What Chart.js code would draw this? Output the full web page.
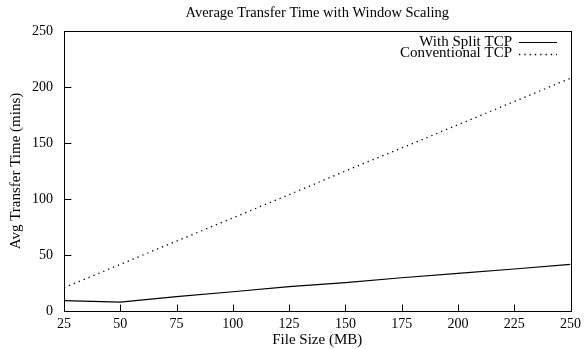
<!DOCTYPE html>
<html>
<head>
<meta charset="utf-8">
<script src="https://cdn.jsdelivr.net/npm/chart.js@4/dist/chart.umd.min.js"></script>
<style>
  html, body { margin: 0; padding: 0; background: #fff; }
  #c { display: block; }
</style>
</head>
<body>
<canvas id="c" width="586" height="349"></canvas>
<script>
// File sizes in MB and average transfer times in minutes
const fileSizes = [25, 50, 75, 100, 125, 150, 175, 200, 225, 250];
const splitTcp = [9.2, 8.0, 12.8, 17.2, 21.7, 25.3, 29.7, 33.6, 37.5, 41.7];
const conventionalTcp = [20.8, 41.6, 62.4, 83.1, 103.9, 125.0, 145.5, 166.3, 187.0, 207.8];
const xTicks = [25, 50, 75, 100, 125, 150, 175, 200, 225, 250];
const yTicks = [0, 50, 100, 150, 200, 250];
const chartTitle = 'Average Transfer Time with Window Scaling';

const FONT = '"Liberation Serif", "Times New Roman", serif';
const TICK_FS = 14;
const LABEL_FS = 15;
const TITLE_FS = 14.5;
const KEY_FS = 15;

// Box frame, inward ticks, centred title and a gnuplot-style key
const framePlugin = {
  id: 'frame',
  afterDraw(chart) {
    const { ctx, chartArea: a, scales: { x, y } } = chart;
    ctx.save();
    ctx.strokeStyle = '#000';
    ctx.lineWidth = 1;
    const L = Math.round(a.left) + 0.5, R = Math.round(a.right) + 0.5;
    const T = Math.round(a.top) + 0.5, B = Math.round(a.bottom) + 0.5;
    ctx.strokeRect(L, T, R - L, B - T);
    ctx.beginPath();
    xTicks.forEach(v => {
      const px = Math.round(x.getPixelForValue(v)) + 0.5;
      ctx.moveTo(px, B); ctx.lineTo(px, B - 7);
    });
    yTicks.forEach(v => {
      const py = Math.round(y.getPixelForValue(v)) + 0.5;
      ctx.moveTo(L, py); ctx.lineTo(L + 7, py);
    });
    ctx.stroke();

    // title, centred over the plot box
    ctx.fillStyle = '#000';
    ctx.textAlign = 'center';
    ctx.textBaseline = 'middle';
    ctx.font = TITLE_FS + 'px ' + FONT;
    ctx.fillText(chartTitle, (a.left + a.right) / 2, 13);

    // key
    ctx.font = KEY_FS + 'px ' + FONT;
    ctx.textAlign = 'right';
    chart.data.datasets.forEach((ds, i) => {
      const ty = 42 + i * 11.5;
      ctx.fillText(ds.label, 512, ty);
      ctx.beginPath();
      ctx.setLineDash(ds.borderDash || []);
      ctx.lineWidth = ds.borderWidth;
      ctx.strokeStyle = ds.borderColor;
      ctx.moveTo(519, Math.round(ty) + 0.5);
      ctx.lineTo(557, Math.round(ty) + 0.5);
      ctx.stroke();
    });
    ctx.restore();
  }
};

new Chart(document.getElementById('c'), {
  type: 'line',
  data: {
    labels: fileSizes,
    datasets: [
      {
        label: 'With Split TCP',
        data: fileSizes.map((f, i) => ({ x: f, y: splitTcp[i] })),
        borderColor: '#000',
        borderWidth: 1.2,
        pointRadius: 0,
        tension: 0,
        fill: false
      },
      {
        label: 'Conventional TCP',
        data: fileSizes.map((f, i) => ({ x: f, y: conventionalTcp[i] })),
        borderColor: '#000',
        borderWidth: 1.3,
        borderDash: [1.3, 4],
        pointRadius: 0,
        tension: 0,
        fill: false
      }
    ]
  },
  options: {
    responsive: false,
    animation: false,
    layout: { padding: { left: 0, right: 14, top: 31, bottom: 0 } },
    plugins: {
      legend: { display: false },
      tooltip: { enabled: false },
      title: { display: false }
    },
    scales: {
      x: {
        type: 'linear',
        min: 25,
        max: 250,
        afterBuildTicks(scale) { scale.ticks = xTicks.map(v => ({ value: v })); },
        afterFit(scale) { scale.height = 38; },
        grid: { display: false, drawTicks: false },
        border: { display: false },
        ticks: {
          color: '#000',
          padding: 5,
          maxRotation: 0,
          autoSkip: false,
          font: { family: FONT, size: TICK_FS }
        },
        title: {
          display: true,
          text: 'File Size (MB)',
          color: '#000',
          padding: { top: 0, bottom: 0 },
          font: { family: FONT, size: LABEL_FS }
        }
      },
      y: {
        type: 'linear',
        min: 0,
        max: 250,
        afterBuildTicks(scale) { scale.ticks = yTicks.map(v => ({ value: v })); },
        afterFit(scale) { scale.width = 64; },
        grid: { display: false, drawTicks: false },
        border: { display: false },
        ticks: {
          color: '#000',
          padding: 11,
          autoSkip: false,
          font: { family: FONT, size: TICK_FS }
        },
        title: {
          display: true,
          text: 'Avg Transfer Time (mins)',
          color: '#000',
          padding: { top: 7, bottom: 0 },
          font: { family: FONT, size: LABEL_FS }
        }
      }
    }
  },
  plugins: [framePlugin]
});
</script>
</body>
</html>
